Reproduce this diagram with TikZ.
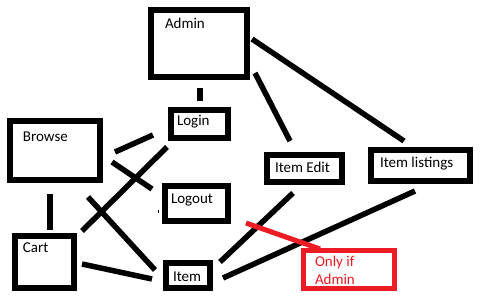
\documentclass[tikz,border=0pt]{standalone}
\usepackage{fontspec}
\setmainfont{Carlito}
\usetikzlibrary{calc}
\definecolor{paintred}{HTML}{ED1C24}
\begin{document}
\begin{tikzpicture}[x=1pt,y=-1pt,
  panel/.style={draw=black,line width=6pt,inner sep=0pt,outer sep=0pt,rectangle},
  notepanel/.style={draw=paintred,line width=5pt,inner sep=0pt,outer sep=0pt,rectangle},
  lbl/.style={inner sep=0pt,outer sep=0pt,anchor=base west,font=\fontsize{15}{18}\selectfont},
  wire/.style={draw=black,line width=5.5pt},
  notewire/.style={draw=paintred,line width=5pt}]
\useasboundingbox[fill=white] (0,0) rectangle (485,307);

% boxes
\node[panel,minimum width=96pt,minimum height=67pt] (admin) at (199,43.5) {};
\node[panel,minimum width=90pt,minimum height=59pt] (browse) at (55,150.5) {};
\node[panel,minimum width=57pt,minimum height=28pt] (login) at (199.5,124) {};
\node[panel,minimum width=63pt,minimum height=35pt] (logout) at (196.5,203.5) {};
\node[panel,minimum width=44pt,minimum height=25pt] (item) at (188,275.5) {};
\node[panel,minimum width=75pt,minimum height=27pt] (itemedit) at (304.5,168.5) {};
\node[panel,minimum width=99pt,minimum height=31pt] (listings) at (420.5,165.5) {};
\node[panel,minimum width=59pt,minimum height=52pt] (cart) at (44.5,262) {};
\node[notepanel,minimum width=91pt,minimum height=38pt] (note) at (348.5,270) {};

% labels
\node[lbl] (admin-t) at (165,29) {Admin};
\node[lbl] (browse-t) at (23,142) {Browse};
\node[lbl] (login-t) at (177,125.5) {Login};
\node[lbl] (logout-t) at (171,204) {Logout};
\node[lbl] (item-t) at (173,282) {Item};
\node[lbl] (itemedit-t) at (275,173) {Item Edit};
\node[lbl] (listings-t) at (380,168) {Item listings};
\node[lbl] (cart-t) at (23,253) {Cart};
\node[lbl,text=paintred] (note-t1) at (315,267) {Only if};
\node[lbl,text=paintred] (note-t2) at (315,285) {Admin};

% connectors
\draw[wire] ($(admin.south)+(1,11)$) -- ($(login.north)+(0.5,-9)$);
\draw[wire] ($(admin.south east)+(8,-4)$) -- ($(itemedit.north)+(-14.5,-14)$);
\draw[wire] ($(admin.east)+(5,-4.5)$) -- ($(listings.north)+(-16.5,-9)$);
\draw[wire] ($(browse.east)+(15,1.5)$) -- ($(login.west)+(-18,11)$);
\draw[wire] ($(browse.east)+(12,11.5)$) -- ($(logout.west)+(-13,-14.5)$);
\draw[wire] ($(login.south west)+(-4,9)$) -- ($(cart.north east)+(8,-5)$);
\draw[wire] ($(browse.south east)+(-12,17)$) -- ($(item.west)+(-11,-5.5)$);
\draw[wire] ($(browse.south)+(-5,14)$) -- ($(cart.north)+(5.5,-6)$);
\draw[wire] ($(cart.east)+(8,2)$) -- ($(item.west)+(-14,3.5)$);
\draw[wire] ($(item.north east)+(10,-1)$) -- ($(itemedit.south)+(-11.5,11)$);
\draw[wire] ($(item.east)+(13,2.5)$) -- ($(listings.south)+(-5.5,10)$);

% pointer from the note
\coordinate (note-tip) at (246,223);
\draw[notewire] (note-tip) -- ($(note.north)+(-28.5,-2)$);

% stray pen mark beside Logout
\coordinate (mark-a) at (158,210);
\coordinate (mark-b) at (158,213);
\draw[black,line width=1pt] (mark-a) -- (mark-b);
\end{tikzpicture}
\end{document}
